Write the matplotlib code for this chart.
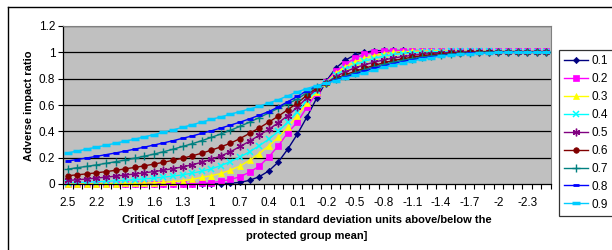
import matplotlib
matplotlib.use("Agg")
import matplotlib.pyplot as plt
from matplotlib.lines import Line2D

plt.rcParams['font.family'] = ['Liberation Sans', 'DejaVu Sans']

cutoffs = [2.5, 2.4, 2.3, 2.2, 2.1, 2.0, 1.9, 1.8, 1.7, 1.6, 1.5, 1.4, 1.3, 1.2, 1.1, 1.0,
           0.9, 0.8, 0.7, 0.6, 0.5, 0.4, 0.3, 0.2, 0.1, 0.0, -0.1, -0.2, -0.3, -0.4, -0.5,
           -0.6, -0.7, -0.8, -0.9, -1.0, -1.1, -1.2, -1.3, -1.4, -1.5, -1.6, -1.7, -1.8,
           -1.9, -2.0, -2.1, -2.2, -2.3, -2.4, -2.5]

series_names = ['0.1', '0.2', '0.3', '0.4', '0.5', '0.6', '0.7', '0.8', '0.9']

s01 = [0, 0, 0, 0, 0, 0, 0, 0, 0, 0, 0, 0, 0, 0, 0,
       .001, .003, .006, .012, .028, .055, .099, .167, .266, .38, .51, .65, .78, .88, .94, .98,
       1.0, 1.012, 1.014, 1.014, 1.014, 1.013, 1.013, 1.012, 1.012, 1.011, 1.011, 1.01, 1.01,
       1.009, 1.009, 1.008, 1.008, 1.007, 1.007, 1.006]
s02 = [0, 0, 0, 0, 0, 0, 0, 0, 0, 0,
       .001, .001, .002, .003, .005, .01, .02, .035, .055, .09, .135, .205, .29, .39, .47, .585,
       .69, .775, .855, .91, .955, .985, 1.0, 1.01, 1.012, 1.013, 1.013, 1.013, 1.012, 1.012,
       1.012, 1.011, 1.011, 1.01, 1.01, 1.01, 1.009, 1.009, 1.008, 1.008, 1.007]
s03 = [.001, .001, .001, .002, .002, .003, .004, .005, .007, .009, .013, .018, .025, .035, .05,
       .063, .08, .105, .137, .18, .23, .29, .355, .43, .52, .615, .70, .77, .84, .89, .928,
       .955, .975, .99, 1.0, 1.005, 1.008, 1.01, 1.011, 1.011, 1.011, 1.011, 1.01, 1.01, 1.01,
       1.009, 1.009, 1.008, 1.008, 1.007, 1.007]
s04 = [.01, .012, .014, .017, .02, .024, .028, .033, .039, .045, .052, .06, .07, .082, .097,
       .115, .14, .17, .205, .245, .29, .34, .40, .47, .55, .635, .71, .768, .825, .87, .905,
       .932, .953, .97, .982, .991, .997, 1.001, 1.004, 1.006, 1.007, 1.007, 1.007, 1.007, 1.007,
       1.006, 1.006, 1.006, 1.005, 1.005, 1.005]
s05 = [.027, .032, .038, .045, .052, .06, .068, .076, .085, .094, .105, .117, .13, .146, .165,
       .188, .213, .245, .285, .325, .37, .415, .465, .52, .585, .655, .72, .767, .815, .852, .882,
       .905, .925, .942, .956, .968, .977, .985, .991, .996, 1.0, 1.002, 1.004, 1.005, 1.005,
       1.005, 1.005, 1.005, 1.005, 1.004, 1.004]
s06 = [.063, .07, .077, .085, .094, .104, .115, .126, .138, .151, .165, .18, .196, .214, .234,
       .257, .282, .31, .345, .385, .425, .47, .515, .565, .615, .675, .73, .766, .80, .83, .855,
       .878, .90, .92, .937, .951, .963, .973, .981, .988, .993, .997, 1.0, 1.002, 1.003,
       1.003, 1.003, 1.003, 1.003, 1.003, 1.003]
s07 = [.113, .124, .134, .145, .157, .169, .182, .196, .211, .227, .245, .264, .285, .306, .329,
       .354, .38, .408, .438, .47, .504, .54, .575, .61, .645, .695, .74, .766, .795, .82, .845,
       .868, .889, .908, .925, .94, .953, .964, .973, .981, .987, .992, .996, .999, 1.001,
       1.002, 1.002, 1.002, 1.002, 1.002, 1.002]
s08 = [.175, .186, .198, .21, .223, .236, .25, .265, .28, .296, .312, .329, .347, .365, .384,
       .404, .425, .447, .47, .495, .522, .55, .585, .625, .665, .71, .745, .765, .79, .812, .835,
       .857, .878, .897, .914, .93, .944, .956, .966, .975, .982, .988, .993, .996, .998,
       1.0, 1.0, 1.0, 1.0, 1.0, 1.0]
s09 = [.237, .25, .265, .28, .294, .31, .325, .341, .358, .375, .393, .411, .43, .45, .47,
       .49, .51, .53, .55, .57, .59, .615, .64, .67, .70, .725, .748, .765, .785, .805, .825,
       .845, .865, .885, .903, .92, .935, .948, .96, .97, .978, .985, .99, .994, .997,
       .999, 1.0, 1.0, 1.0, 1.0, 1.0]

values = [s01, s02, s03, s04, s05, s06, s07, s08, s09]
colors = ['#000080', '#FF00FF', '#FFFF00', '#00FFFF', '#800080', '#800000', '#008080',
          '#0000FF', '#00CCFF']
styles = [
    dict(marker='D', markersize=3.2, mew=0.5),
    dict(marker='s', markersize=3.8, mew=0.5),
    dict(marker='^', markersize=4.5, mew=0.5),
    dict(marker='x', markersize=4.5, mew=1.1),
    dict(marker=(6, 2, 0), markersize=5.5, mew=1.0),
    dict(marker='o', markersize=4.0, mew=0.5),
    dict(marker='+', markersize=6.0, mew=1.0),
    dict(marker='_', markersize=4.0, mew=2.0),
    dict(marker='_', markersize=6.0, mew=2.5),
]

W, H = 612, 250
fig = plt.figure(figsize=(W / 100, H / 100), dpi=100)
fig.patch.set_facecolor('white')

L, R, T, B = 63, 551, 26, 184
ax = fig.add_axes([L / W, 1 - B / H, (R - L) / W, (B - T) / H])
ax.set_facecolor('#C0C0C0')

xs = list(range(len(cutoffs)))
for name, vals, col, st in zip(series_names, values, colors, styles):
    ax.plot(xs, vals, color=col, lw=1.0, label=name, clip_on=False,
            markerfacecolor=col, markeredgecolor=col, **st)

ax.set_xlim(-0.5, len(cutoffs) - 0.5)
ax.set_ylim(0, 1.2)
yt = [0, 0.2, 0.4, 0.6, 0.8, 1.0, 1.2]
ax.set_yticks(yt)
ax.set_yticklabels(['0', '0.2', '0.4', '0.6', '0.8', '1', '1.2'], fontsize=8.5)
for y in yt[1:]:
    ax.axhline(y, color='black', lw=0.9, zorder=0.5)

lab_idx = xs[::3]
ax.set_xticks(lab_idx)
ax.set_xticklabels(['%g' % cutoffs[i] for i in lab_idx], fontsize=8.5)
ax.tick_params(axis='x', which='major', length=0, pad=9)
ax.set_xticks([i - 0.5 for i in xs] + [len(xs) - 0.5], minor=True)
ax.tick_params(axis='x', which='minor', length=3.5, width=0.8, direction='out')
ax.tick_params(axis='y', length=3.5, width=0.8, direction='out', pad=2)

for sp in ['top', 'right']:
    ax.spines[sp].set_visible(True)
    ax.spines[sp].set_color('#808080')
    ax.spines[sp].set_linewidth(0.8)
ax.spines['left'].set_color('black')
ax.spines['bottom'].set_color('black')
ax.spines['left'].set_linewidth(0.9)
ax.spines['bottom'].set_linewidth(0.9)

fig.text(29 / W, 1 - 106 / H, 'Adverse impact ratio', rotation=90, ha='center', va='center',
         fontsize=8, fontweight='bold')
fig.text(307 / W, 1 - 220 / H, 'Critical cutoff [expressed in standard deviation units above/below the',
         ha='center', va='center', fontsize=8, fontweight='bold')
fig.text(307 / W, 1 - 236 / H, 'protected group mean]', ha='center', va='center', fontsize=8,
         fontweight='bold')

handles, labels = ax.get_legend_handles_labels()
leg = fig.legend(handles, labels, loc='upper left', bbox_to_anchor=(559 / W, 1 - 50 / H),
                 fontsize=8.5, frameon=True, fancybox=False, edgecolor='black',
                 handlelength=2.0, handletextpad=0.3, labelspacing=0.5, borderpad=0.45,
                 borderaxespad=0)
leg.get_frame().set_linewidth(0.9)

# outer chart border
fig.add_artist(Line2D([8 / W, 8 / W], [-0.1, 1 - 7 / H], color='black', lw=1.0,
                      transform=fig.transFigure))
fig.add_artist(Line2D([8 / W, 1.1], [1 - 7 / H, 1 - 7 / H], color='black', lw=1.0,
                      transform=fig.transFigure))

fig.savefig('out.png', dpi=100)
